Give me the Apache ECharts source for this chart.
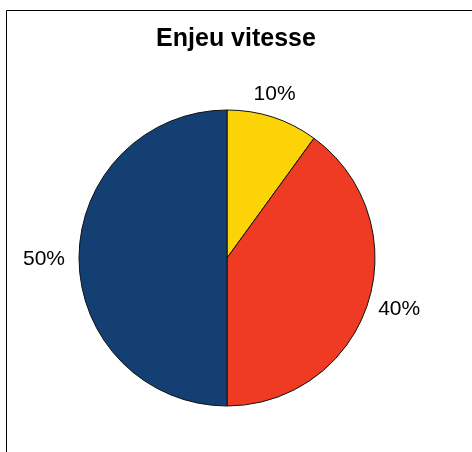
<!DOCTYPE html>
<html>
<head>
<meta charset="utf-8">
<title>Enjeu vitesse</title>
<script src="https://cdn.jsdelivr.net/npm/echarts@6/dist/echarts.min.js"></script>
<style>
  html, body { margin: 0; padding: 0; background: #fff; }
  #chart { width: 472px; height: 452px; }
</style>
</head>
<body>
<div id="chart"></div>
<script>
'use strict';

// chart data
const categories = ['A', 'B', 'C'];
const shares = [10, 40, 50];
const labels = ['10%', '40%', '50%'];
const colors = ['#fcd307', '#ef3a24', '#133f73'];

// small nudges so labels sit where the original placed them
const labelNudge = [[-8, 7], [1, -4], [-3, 1]];

const FONT = '"Liberation Sans", Arial, sans-serif';
const center = [227, 258];

const chart = echarts.init(document.getElementById('chart'), null, { renderer: 'canvas' });

const option = {
  animation: false,
  backgroundColor: '#fff',
  title: {
    text: 'Enjeu vitesse',
    left: 'center',
    top: 22,
    textStyle: { fontFamily: FONT, fontSize: 25, fontWeight: 'bold', color: '#000' }
  },
  graphic: [
    {
      type: 'polyline',
      shape: { points: [[6.5, 452], [6.5, 10.5], [472, 10.5]] },
      style: { stroke: '#000', lineWidth: 1, fill: null },
      silent: true
    }
  ],
  series: [
    {
      type: 'pie',
      center: center,
      radius: 148,
      startAngle: 90,
      clockwise: true,
      silent: true,
      label: { show: false },
      labelLine: { show: false },
      itemStyle: { borderColor: '#111', borderWidth: 1 },
      data: categories.map((c, i) => ({
        name: c,
        value: shares[i],
        itemStyle: { color: colors[i] }
      }))
    },
    {
      // invisible ring that only carries the labels
      type: 'pie',
      center: center,
      radius: [170, 184],
      startAngle: 90,
      clockwise: true,
      silent: true,
      itemStyle: { color: 'rgba(0,0,0,0)', borderWidth: 0 },
      label: {
        show: true,
        position: 'inside',
        rotate: 0,
        fontFamily: FONT,
        fontSize: 21,
        color: '#000'
      },
      labelLine: { show: false },
      data: categories.map((c, i) => ({
        name: c,
        value: shares[i],
        label: { formatter: labels[i], offset: labelNudge[i] }
      }))
    }
  ]
};

chart.setOption(option);

window.addEventListener('resize', () => {
  chart.resize();
});
</script>
</body>
</html>
